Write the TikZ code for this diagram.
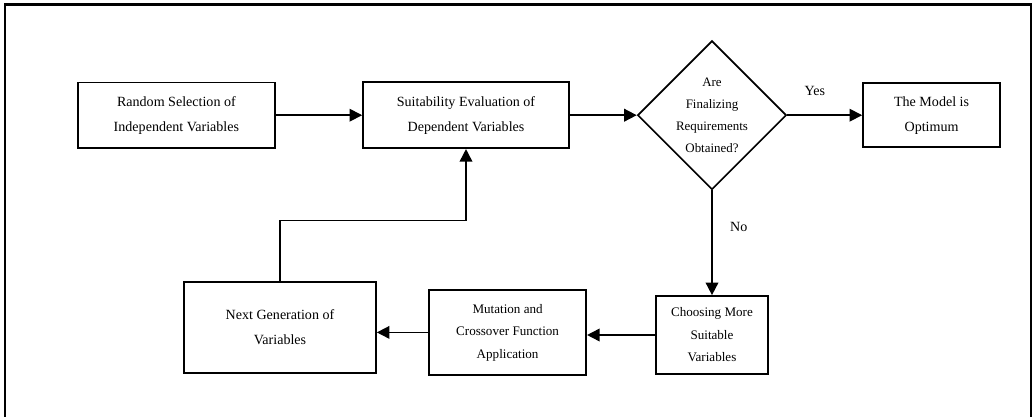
\documentclass[tikz,border=0pt]{standalone}
\usepackage{fontspec}
\setmainfont{Liberation Serif}
\usetikzlibrary{arrows.meta}
\usepgflibrary{shapes.geometric}
\usetikzlibrary{scopes}

\begin{document}
\begin{tikzpicture}
  [block/.style={shape=rectangle, draw, line width=1.2pt, align=center,
         inner sep=0pt, font=\fontsize{10}{17.8}\selectfont},
   smallblock/.style={block, font=\fontsize{9.3}{16}\selectfont},
   decision/.style={shape=diamond, draw, line width=1.2pt, align=center,
         inner sep=0pt, aspect=1, minimum size=3.72cm,
         font=\fontsize{9.2}{15.6}\selectfont},
   answer/.style={font=\fontsize{10}{12}\selectfont}
  ]

 \useasboundingbox (0,0) rectangle (25.825,-10.425);
 % outer frame, open at the bottom
 \draw [line width=1.6pt] (0.125,-10.425) -- (0.125,-0.11) -- (25.77,-0.11) -- (25.77,-10.425);

 \path
   (4.41,-2.88) node (random) [block, minimum width=4.93cm, minimum height=1.63cm]
        {Random Selection of\\Independent Variables}
   ++(7.24,0)   node (evaluate) [block, minimum width=5.15cm, minimum height=1.65cm]
        {Suitability Evaluation of\\Dependent Variables}
   ++(6.15,0)   node (check) [decision] {Are\\Finalizing\\Requirements\\Obtained?}
   {[current point is local] % yes branch, from check
      ++(5.49,0) node (optimum) [block, minimum width=3.43cm, minimum height=1.6cm]
        {The Model is\\Optimum}
   }
   % no branch, from check
   ++(0,-5.495)  node (choose) [smallblock, minimum width=2.8cm, minimum height=1.95cm]
        {Choosing More\\Suitable\\Variables}
   ++(-5.11,0.065) node (mutate) [smallblock, minimum width=3.93cm, minimum height=2.13cm]
        {Mutation and\\Crossover Function\\Application}
   ++(-5.69,0.12)  node (nextgen) [block, minimum width=4.8cm, minimum height=2.28cm]
        {Next Generation of\\Variables}
   ;
   \begin{scope}[line width=1.2pt, >={Triangle[length=9pt,width=9pt]}]
   \draw [->] (random) -- (evaluate);
   \draw [->] (evaluate) -- (check);
   \draw [->] (check) -- node [answer, above=10pt, pos=0.37] {Yes} (optimum);
   \draw [->] (check) -- node [answer, right=9pt, pos=0.35] {No} (choose);
   \draw [->] (choose.west) -- (mutate.east |- choose.west);
   \draw [->] (mutate.west) -- (nextgen.east |- mutate.west);
   \draw [->] (nextgen.north) -- ++(0,1.52) -| (evaluate.south);
   \end{scope}

\end{tikzpicture}
\end{document}
